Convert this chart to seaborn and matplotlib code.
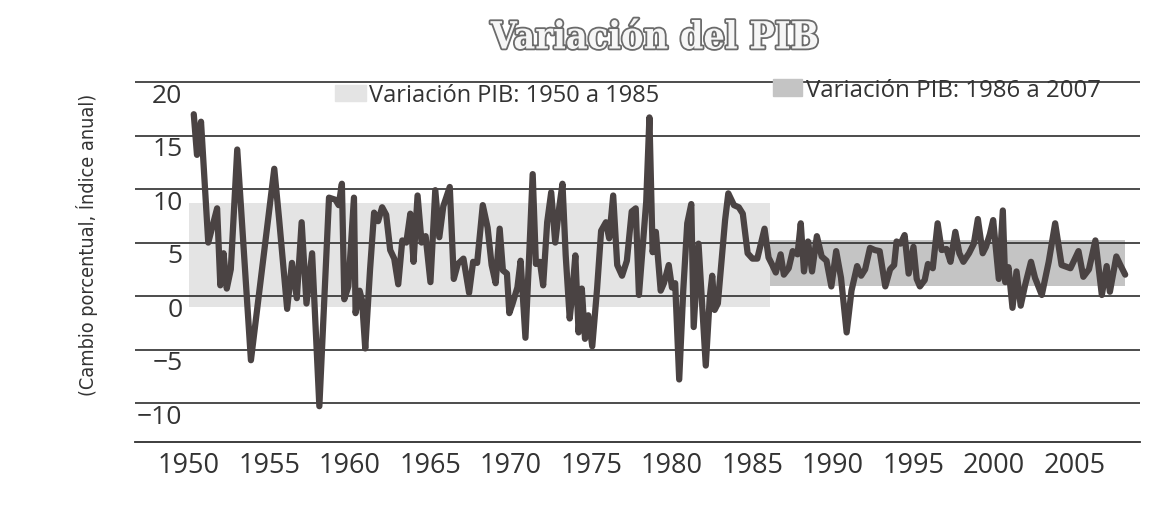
import matplotlib
matplotlib.use("Agg")
import matplotlib.pyplot as plt
import matplotlib.patheffects as pe
from matplotlib.patches import Patch
import seaborn as sns
import pandas as pd

# Serie (año, variación % anualizada)
anios = [1950.3, 1950.5, 1950.75, 1951.2, 1951.75, 1951.95, 1952.15, 1952.35, 1952.6, 1953.0,
         1953.85, 1955.3, 1955.6, 1956.1, 1956.4, 1956.7, 1957.0, 1957.3, 1957.65, 1958.1,
         1958.7, 1959.1, 1959.3, 1959.5, 1959.65, 1959.9, 1960.25, 1960.35, 1960.6, 1960.75,
         1960.95, 1961.25, 1961.5, 1961.75, 1962.0, 1962.25, 1962.5, 1962.75, 1963.0, 1963.25,
         1963.5, 1963.75, 1963.95, 1964.2, 1964.45, 1964.7, 1965.0, 1965.3, 1965.55, 1965.8,
         1966.2, 1966.45, 1966.7, 1967.05, 1967.4, 1967.65, 1967.9, 1968.25, 1968.55, 1968.8,
         1969.05, 1969.3, 1969.5, 1969.75, 1969.9, 1970.1, 1970.4, 1970.6, 1970.9, 1971.1,
         1971.35, 1971.55, 1971.8, 1972.0, 1972.25, 1972.5, 1972.75, 1973.0, 1973.2, 1973.4,
         1973.65, 1973.8, 1974.0, 1974.2, 1974.4, 1974.6, 1974.8, 1975.05, 1975.35, 1975.6,
         1975.9, 1976.1, 1976.35, 1976.6, 1976.9, 1977.2, 1977.5, 1977.75, 1977.95, 1978.2,
         1978.4, 1978.6, 1978.8, 1979.0, 1979.3, 1979.5, 1979.8, 1980.0, 1980.2, 1980.45,
         1980.7, 1980.95, 1981.2, 1981.35, 1981.65, 1981.85, 1982.1, 1982.35, 1982.5, 1982.65,
         1982.85, 1983.1, 1983.3, 1983.5, 1983.85, 1984.15, 1984.4, 1984.7, 1985.0, 1985.3,
         1985.75, 1986.0, 1986.2, 1986.45, 1986.75, 1986.95, 1987.25, 1987.5, 1987.8, 1988.0,
         1988.2, 1988.45, 1988.7, 1989.0, 1989.3, 1989.6, 1989.9, 1990.2, 1990.5, 1990.85,
         1991.15, 1991.5, 1991.75, 1992.0, 1992.3, 1992.6, 1992.9, 1993.25, 1993.55, 1993.8,
         1993.95, 1994.2, 1994.45, 1994.7, 1995.0, 1995.2, 1995.4, 1995.7, 1995.9, 1996.2,
         1996.5, 1996.75, 1997.05, 1997.3, 1997.6, 1997.85, 1998.1, 1998.45, 1998.75, 1999.0,
         1999.3, 1999.5, 1999.75, 1999.95, 2000.15, 2000.3, 2000.55, 2000.7, 2000.9, 2001.15,
         2001.4, 2001.66, 2001.93, 2002.3, 2002.55, 2002.97, 2003.4, 2003.8, 2004.2, 2004.75,
         2005.25, 2005.55, 2005.9, 2006.3, 2006.7, 2007.0, 2007.2, 2007.6, 2007.85, 2008.15]
variacion = [17.0, 13.2, 16.3, 5.0, 8.2, 1.0, 4.0, 0.7, 2.5, 13.7,
             -6.0, 11.9, 7.2, -1.2, 3.1, -0.2, 6.9, -0.7, 4.0, -10.3,
             9.2, 9.0, 8.5, 10.5, -0.3, 0.9, 9.2, -1.6, 0.5, -0.4,
             -4.9, 2.5, 7.8, 7.0, 8.3, 7.6, 4.3, 3.5, 1.1, 5.2,
             5.0, 7.7, 3.2, 9.4, 5.0, 5.6, 1.3, 9.9, 5.5, 8.4,
             10.2, 1.6, 3.0, 3.5, 0.3, 3.2, 3.1, 8.5, 6.4, 2.9,
             1.2, 6.3, 2.4, 2.1, -1.6, -0.7, 0.8, 3.3, -3.9, 2.7,
             11.4, 3.0, 3.2, 1.0, 6.9, 9.7, 5.0, 8.3, 10.5, 3.8,
             -2.1, 0.1, 3.8, -3.4, 0.7, -4.0, -1.8, -4.7, 0.7, 6.1,
             6.9, 5.4, 9.4, 2.9, 1.9, 3.3, 7.9, 8.2, 0.1, 5.0,
             8.8, 16.7, 4.1, 6.0, 0.5, 1.2, 2.9, 0.8, 1.2, -7.8,
             0.5, 6.8, 8.6, -2.9, 4.9, -0.1, -6.5, -0.1, 1.9, -1.3,
             -0.7, 3.6, 7.1, 9.6, 8.5, 8.3, 7.7, 4.0, 3.5, 3.5,
             6.3, 3.6, 3.0, 2.2, 3.9, 2.0, 2.6, 4.2, 3.9, 6.8,
             2.3, 5.1, 2.3, 5.6, 3.7, 3.3, 0.9, 4.2, 1.7, -3.4,
             0.5, 2.8, 1.9, 2.5, 4.5, 4.3, 4.2, 0.9, 2.5, 2.9,
             5.1, 4.9, 5.7, 2.1, 4.6, 1.6, 0.9, 1.5, 3.0, 2.6,
             6.8, 4.3, 4.4, 3.2, 6.0, 4.0, 3.2, 4.0, 4.9, 7.2,
             4.0, 4.6, 5.8, 7.1, 4.0, 1.6, 8.0, 1.3, 2.7, -1.1,
             2.3, -0.9, 1.0, 3.2, 1.7, 0.1, 3.2, 6.8, 2.9, 2.6,
             4.2, 1.8, 2.5, 5.2, 0.1, 2.8, 0.4, 3.7, 2.9, 2.0]

# Bandas de variación por periodo
periodos = ["Variación PIB: 1950 a 1985", "Variación PIB: 1986 a 2007"]
periodo_inicio = [1950.0, 1986.1]
periodo_fin = [1986.1, 2008.15]
banda_min = [-1.0, 0.9]
banda_max = [8.7, 5.2]
colores_banda = ["#e4e4e4", "#c4c4c4"]

x_ticks = list(range(1950, 2010, 5))
y_ticks = [-10, -5, 0, 5, 10, 15, 20]
y_labels = ["\u221210", "\u22125", "0", "5", "10", "15", "20"]

df = pd.DataFrame({"Año": anios, "Variación": variacion})

sns.set_style("white")
plt.rcParams["font.family"] = ["Open Sans", "DejaVu Sans"]

fig = plt.figure(figsize=(11.52, 5.06), dpi=100)
ax = fig.add_axes([135 / 1152, 1 - 442.5 / 506, 1005 / 1152, 361.5 / 506])

# Bandas grises
for ini, fin, lo, hi, c in zip(periodo_inicio, periodo_fin, banda_min, banda_max, colores_banda):
    ax.fill_between([ini, fin], lo, hi, color=c, linewidth=0, zorder=1)

# Línea de la serie
sns.lineplot(data=df, x="Año", y="Variación", estimator=None, color="#4a4343",
             linewidth=4.5, ax=ax, zorder=3)

ax.set_xlim(1946.65, 2009.07)
ax.set_ylim(-13.6, 20.2)

# Rejilla horizontal
ax.set_axisbelow("line")
ax.set_yticks(y_ticks)
ax.set_yticklabels([])
ax.tick_params(axis="y", length=0)
ax.yaxis.grid(True, color="#2e2e2e", linewidth=1.2)
ax.xaxis.grid(False)

# Etiquetas del eje y debajo de cada línea
for v, lab in zip(y_ticks, y_labels):
    ax.text(1949.6, v - 1.25, lab, ha="right", va="center", fontsize=19, color="#333333")

# Eje x
for s in ["top", "left", "right"]:
    ax.spines[s].set_visible(False)
ax.spines["bottom"].set_color("#2e2e2e")
ax.spines["bottom"].set_linewidth(1.3)
ax.set_xticks(x_ticks)
ax.set_xticklabels([str(t) for t in x_ticks])
ax.tick_params(axis="x", direction="in", length=11, width=1.2, color="#2e2e2e",
               labelsize=19.5, labelcolor="#333333", pad=7)
ax.set_xlabel("")
ax.set_ylabel("")

# Leyendas
leg1 = ax.legend(handles=[Patch(color=colores_banda[0])], labels=[periodos[0]],
                 loc="center left", bbox_to_anchor=(0.199, 0.958), frameon=False,
                 fontsize=17, handlelength=1.3, handleheight=0.7, handletextpad=0.15,
                 borderpad=0, borderaxespad=0, labelcolor="#333333")
ax.add_artist(leg1)
ax.legend(handles=[Patch(color=colores_banda[1])], labels=[periodos[1]],
          loc="center left", bbox_to_anchor=(0.635, 0.972), frameon=False,
          fontsize=17.3, handlelength=1.2, handleheight=0.7, handletextpad=0.15,
          borderpad=0, borderaxespad=0, labelcolor="#333333")

fig.text(87 / 1152, 1 - 245 / 506, "(Cambio porcentual, Índice anual)", rotation=90,
         ha="center", va="center", fontsize=14.2, color="#333333",
         family=["DejaVu Sans Condensed", "Liberation Sans Narrow", "DejaVu Sans"],
         fontstretch="condensed")

fig.text(655 / 1152, 1 - 39 / 506, "Variación del PIB", ha="center", va="center",
         fontsize=27, family=["DejaVu Serif Condensed", "DejaVu Serif"], weight="bold",
         fontstretch="condensed", color="#f6f6f6",
         path_effects=[pe.withStroke(linewidth=2.6, foreground="#6b6b6b")])

fig.savefig("out.png", dpi=100)
